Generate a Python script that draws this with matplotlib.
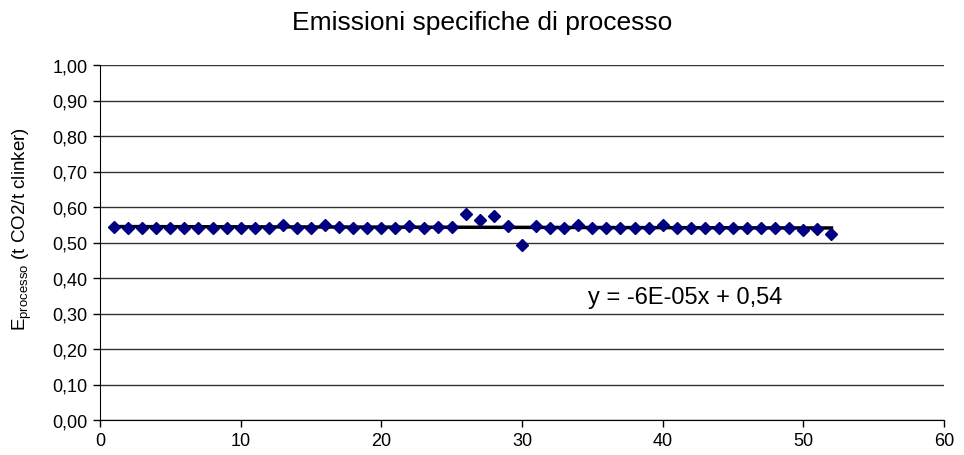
import numpy as np
import matplotlib
matplotlib.use("Agg")
import matplotlib.pyplot as plt
from matplotlib.ticker import FuncFormatter

plt.rcParams['font.family'] = ['Liberation Sans', 'DejaVu Sans']

# dati
settimane = list(range(1, 53))
emissioni = [0.543, 0.541, 0.542, 0.542, 0.541, 0.542, 0.541, 0.542, 0.542, 0.541,
             0.542, 0.542, 0.548, 0.542, 0.541, 0.550, 0.543, 0.542, 0.541, 0.542,
             0.541, 0.546, 0.541, 0.545, 0.545, 0.579, 0.564, 0.575, 0.547, 0.494,
             0.547, 0.541, 0.541, 0.548, 0.542, 0.541, 0.541, 0.542, 0.541, 0.548,
             0.542, 0.541, 0.541, 0.542, 0.541, 0.541, 0.541, 0.542, 0.541, 0.535,
             0.539, 0.525]
equazione = "y = -6E-05x + 0,54"

fig = plt.figure(figsize=(9.64, 4.56), dpi=100)
ax = fig.add_axes([100 / 964, 35 / 456, 844 / 964, 355 / 456])

# linea di tendenza
m, q = np.polyfit(settimane, emissioni, 1)
xs = np.array([settimane[0], settimane[-1]])
ax.plot(xs, m * xs + q, color='black', linewidth=2.5, zorder=2)
ax.plot(settimane, emissioni, linestyle='none', marker='D', markersize=6.5,
        color='#000080', zorder=3)

ax.set_xlim(0, 60)
ax.set_ylim(0, 1.0)
ax.set_xticks(np.arange(0, 61, 10))
ax.set_yticks(np.arange(0, 1.01, 0.1))
ax.yaxis.set_major_formatter(FuncFormatter(lambda v, p: f"{v:.2f}".replace('.', ',')))
ax.grid(axis='y', color='#333333', linewidth=1)
ax.set_axisbelow(True)
for s in ['top', 'right']:
    ax.spines[s].set_visible(False)
ax.tick_params(labelsize=13, length=5, direction='out', width=1, pad=4)

fig.text(0.5, 1 - 23 / 456, "Emissioni specifiche di processo", fontsize=19,
         ha='center', va='center')
ax.set_ylabel(r"E$_{\mathregular{processo}}$ (t CO2/t clinker)", fontsize=13.5)
ax.yaxis.set_label_coords(-0.078, 0.54)
ax.text(34.7, 0.347, equazione, fontsize=17, va='center')

plt.savefig("out.png", dpi=100)
